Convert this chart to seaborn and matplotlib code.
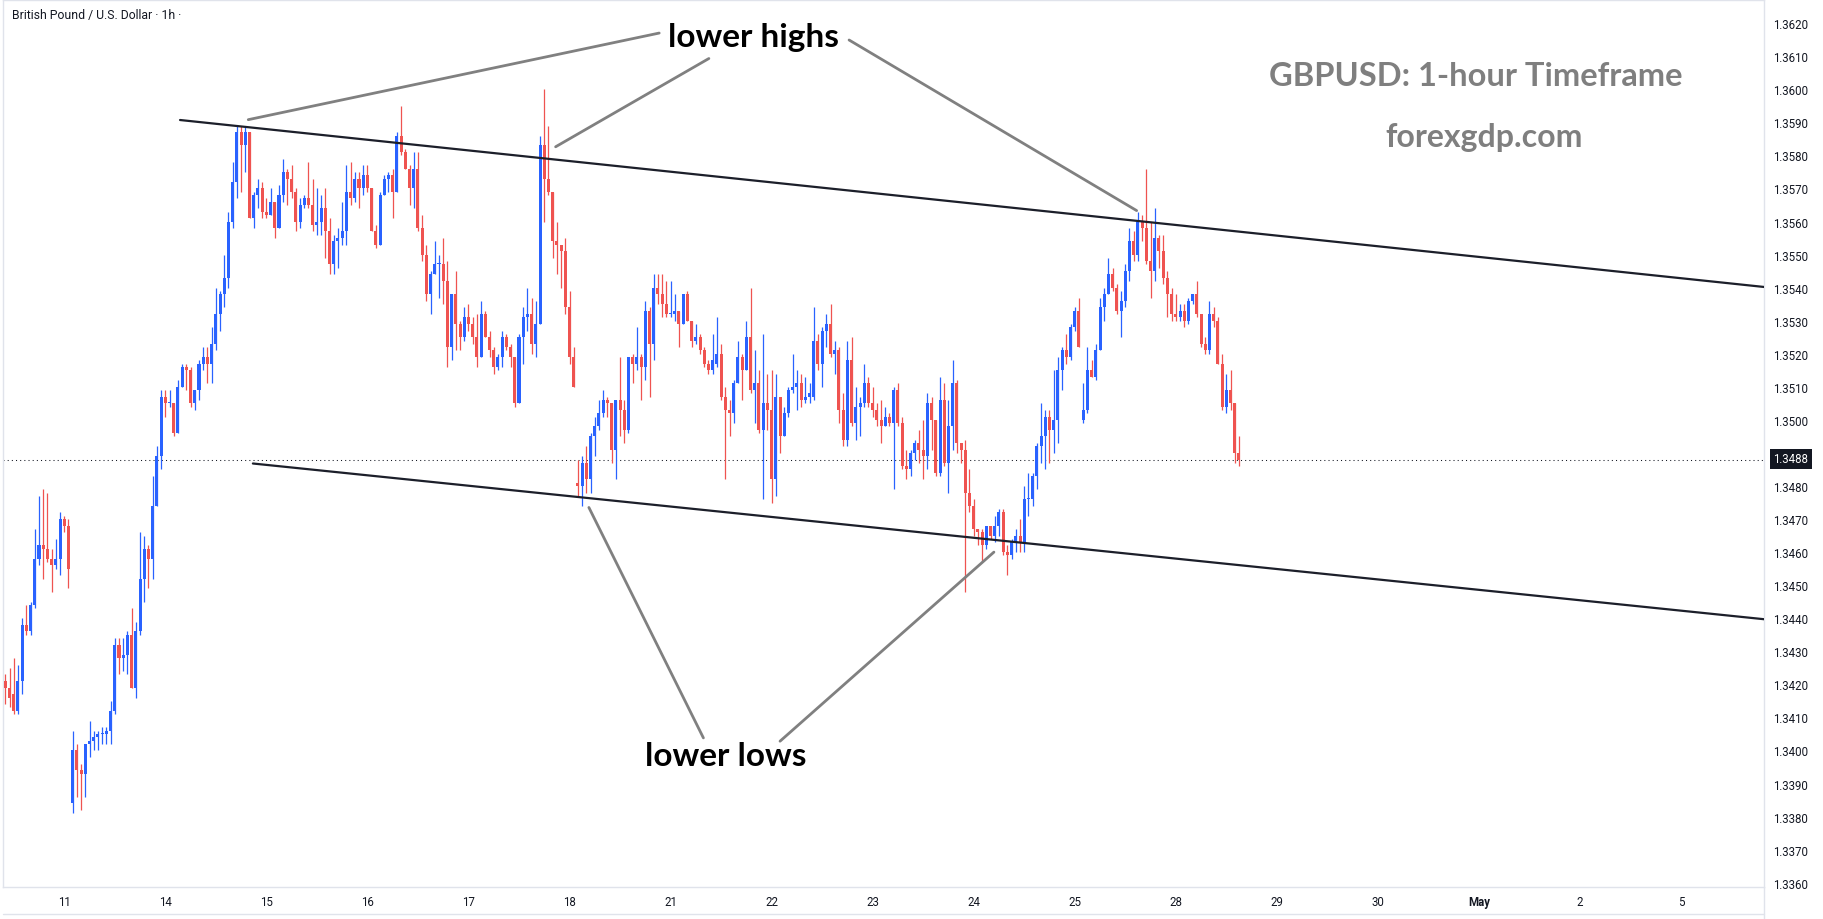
import numpy as np
import pandas as pd
import matplotlib
matplotlib.use("Agg")
import matplotlib.pyplot as plt
from matplotlib.lines import Line2D
import seaborn as sns

# GBPUSD 1h candles (oldest first)
opens = [
    1.3421, 1.3419, 1.3417, 1.3412, 1.3421, 1.3438, 1.3436, 1.3444, 1.3458, 1.3462, 1.3461, 1.3458, 1.3456, 1.3458, 1.3470, 1.3468,
    1.3384, 1.3400, 1.3394, 1.3393, 1.3402, 1.3403, 1.3404, 1.3405, 1.3405, 1.3406, 1.3412, 1.3432, 1.3428, 1.3429, 1.3435, 1.3419,
    1.3436, 1.3452, 1.3461, 1.3458, 1.3474, 1.3489, 1.3507, 1.3505,
    1.3505, 1.3496, 1.3510, 1.3516, 1.3515, 1.3505, 1.3509, 1.3517, 1.3519, 1.3517, 1.3523, 1.3532, 1.3538, 1.3543, 1.3560, 1.3572,
    1.3587, 1.3583, 1.3587, 1.3561, 1.3568, 1.3570, 1.3563, 1.3562,
    1.3566, 1.3558, 1.3568, 1.3575, 1.3573, 1.3569, 1.3560, 1.3565, 1.3567, 1.3565, 1.3559, 1.3560, 1.3564, 1.3557, 1.3547, 1.3554,
    1.3555, 1.3557, 1.3569, 1.3567, 1.3573, 1.3570, 1.3574, 1.3570,
    1.3557, 1.3553, 1.3568, 1.3573, 1.3574, 1.3569, 1.3586, 1.3581, 1.3576, 1.3570, 1.3576, 1.3558, 1.3550, 1.3538, 1.3544, 1.3547,
    1.3547, 1.3542, 1.3522, 1.3538, 1.3529, 1.3525, 1.3531, 1.3529,
    1.3525, 1.3519, 1.3532, 1.3525, 1.3521, 1.3516, 1.3519, 1.3525, 1.3522, 1.3519, 1.3505, 1.3525, 1.3531, 1.3532, 1.3523, 1.3529,
    1.3583, 1.3573, 1.3569, 1.3554, 1.3553, 1.3551, 1.3534, 1.3519,
    1.3481, 1.3480, 1.3487, 1.3482, 1.3495, 1.3498, 1.3502, 1.3506, 1.3505, 1.3491, 1.3506, 1.3503, 1.3497, 1.3519, 1.3517, 1.3519,
    1.3516, 1.3533, 1.3523, 1.3540, 1.3538, 1.3535, 1.3532, 1.3532,
    1.3533, 1.3529, 1.3538, 1.3530, 1.3524, 1.3525, 1.3521, 1.3517, 1.3515, 1.3517, 1.3520, 1.3507, 1.3503, 1.3502, 1.3511, 1.3519,
    1.3515, 1.3525, 1.3509, 1.3511, 1.3497, 1.3505, 1.3503, 1.3482,
    1.3507, 1.3495, 1.3502, 1.3509, 1.3510, 1.3511, 1.3506, 1.3507, 1.3507, 1.3524, 1.3517, 1.3527, 1.3529, 1.3520, 1.3521, 1.3503,
    1.3494, 1.3518, 1.3499, 1.3504, 1.3505, 1.3511, 1.3505, 1.3503,
    1.3500, 1.3498, 1.3501, 1.3499, 1.3509, 1.3499, 1.3486, 1.3485, 1.3490, 1.3493, 1.3491, 1.3489, 1.3505, 1.3500, 1.3484, 1.3506,
    1.3487, 1.3498, 1.3511, 1.3493, 1.3491, 1.3478, 1.3474, 1.3467,
    1.3466, 1.3462, 1.3468, 1.3465, 1.3468, 1.3472, 1.3460, 1.3459, 1.3463, 1.3465, 1.3463, 1.3476, 1.3476, 1.3483, 1.3492, 1.3495,
    1.3501, 1.3497, 1.3500, 1.3515, 1.3521, 1.3519, 1.3528, 1.3533,
    1.3500, 1.3503, 1.3515, 1.3513, 1.3521, 1.3534, 1.3538, 1.3544, 1.3540, 1.3533, 1.3536, 1.3545, 1.3554, 1.3550, 1.3560, 1.3558,
    1.3548, 1.3545, 1.3555, 1.3551, 1.3543, 1.3538, 1.3532, 1.3531,
    1.3533, 1.3530, 1.3536, 1.3538, 1.3532, 1.3523, 1.3521, 1.3532, 1.3530, 1.3517, 1.3504, 1.3509, 1.3505, 1.3490,
]
highs = [
    1.3423, 1.3425, 1.3428, 1.3426, 1.3440, 1.3444, 1.3445, 1.3467, 1.3477, 1.3479, 1.3478, 1.3461, 1.3464, 1.3472, 1.3471, 1.3470,
    1.3406, 1.3402, 1.3396, 1.3402, 1.3409, 1.3406, 1.3406, 1.3407, 1.3407, 1.3415, 1.3434, 1.3434, 1.3434, 1.3436, 1.3443, 1.3439,
    1.3466, 1.3465, 1.3462, 1.3483, 1.3492, 1.3509, 1.3509, 1.3509,
    1.3505, 1.3512, 1.3517, 1.3517, 1.3516, 1.3509, 1.3518, 1.3522, 1.3522, 1.3528, 1.3540, 1.3539, 1.3550, 1.3563, 1.3578, 1.3589,
    1.3589, 1.3589, 1.3587, 1.3569, 1.3573, 1.3572, 1.3567, 1.3570,
    1.3566, 1.3571, 1.3579, 1.3576, 1.3577, 1.3570, 1.3567, 1.3568, 1.3578, 1.3573, 1.3570, 1.3568, 1.3570, 1.3561, 1.3556, 1.3558,
    1.3566, 1.3577, 1.3578, 1.3575, 1.3575, 1.3577, 1.3577, 1.3570,
    1.3559, 1.3569, 1.3574, 1.3575, 1.3576, 1.3587, 1.3595, 1.3582, 1.3577, 1.3581, 1.3581, 1.3562, 1.3553, 1.3545, 1.3554, 1.3550,
    1.3555, 1.3548, 1.3538, 1.3545, 1.3530, 1.3534, 1.3535, 1.3531,
    1.3532, 1.3536, 1.3533, 1.3527, 1.3522, 1.3520, 1.3527, 1.3526, 1.3523, 1.3519, 1.3526, 1.3534, 1.3540, 1.3537, 1.3536, 1.3586,
    1.3600, 1.3589, 1.3569, 1.3560, 1.3553, 1.3555, 1.3539, 1.3522,
    1.3488, 1.3489, 1.3492, 1.3496, 1.3501, 1.3506, 1.3509, 1.3507, 1.3505, 1.3506, 1.3519, 1.3506, 1.3519, 1.3520, 1.3528, 1.3520,
    1.3536, 1.3534, 1.3544, 1.3544, 1.3544, 1.3542, 1.3542, 1.3538,
    1.3533, 1.3538, 1.3539, 1.3530, 1.3529, 1.3526, 1.3522, 1.3518, 1.3526, 1.3531, 1.3523, 1.3510, 1.3506, 1.3512, 1.3524, 1.3520,
    1.3530, 1.3540, 1.3521, 1.3515, 1.3526, 1.3514, 1.3515, 1.3514,
    1.3507, 1.3504, 1.3510, 1.3520, 1.3515, 1.3514, 1.3513, 1.3511, 1.3534, 1.3526, 1.3528, 1.3532, 1.3535, 1.3524, 1.3522, 1.3508,
    1.3524, 1.3525, 1.3510, 1.3507, 1.3517, 1.3513, 1.3510, 1.3505,
    1.3506, 1.3504, 1.3502, 1.3510, 1.3511, 1.3501, 1.3491, 1.3491, 1.3494, 1.3497, 1.3500, 1.3508, 1.3507, 1.3500, 1.3513, 1.3511,
    1.3506, 1.3518, 1.3512, 1.3493, 1.3494, 1.3485, 1.3476, 1.3467,
    1.3467, 1.3468, 1.3468, 1.3471, 1.3473, 1.3473, 1.3462, 1.3464, 1.3467, 1.3470, 1.3480, 1.3484, 1.3484, 1.3493, 1.3505, 1.3503,
    1.3503, 1.3515, 1.3519, 1.3522, 1.3526, 1.3529, 1.3534, 1.3537,
    1.3511, 1.3522, 1.3518, 1.3523, 1.3537, 1.3540, 1.3549, 1.3546, 1.3541, 1.3539, 1.3547, 1.3558, 1.3557, 1.3563, 1.3562, 1.3576,
    1.3560, 1.3564, 1.3556, 1.3556, 1.3545, 1.3540, 1.3538, 1.3535,
    1.3535, 1.3537, 1.3538, 1.3542, 1.3532, 1.3525, 1.3536, 1.3534, 1.3531, 1.3520, 1.3514, 1.3515, 1.3505, 1.3495,
]
lows = [
    1.3414, 1.3413, 1.3411, 1.3411, 1.3417, 1.3435, 1.3435, 1.3443, 1.3456, 1.3452, 1.3457, 1.3448, 1.3455, 1.3453, 1.3466, 1.3449,
    1.3381, 1.3386, 1.3382, 1.3386, 1.3398, 1.3400, 1.3400, 1.3402, 1.3402, 1.3402, 1.3411, 1.3423, 1.3424, 1.3423, 1.3419, 1.3416,
    1.3435, 1.3445, 1.3449, 1.3452, 1.3474, 1.3485, 1.3501, 1.3504,
    1.3495, 1.3496, 1.3510, 1.3509, 1.3504, 1.3503, 1.3506, 1.3515, 1.3511, 1.3511, 1.3521, 1.3527, 1.3534, 1.3540, 1.3558, 1.3567,
    1.3569, 1.3575, 1.3561, 1.3558, 1.3564, 1.3561, 1.3561, 1.3562,
    1.3555, 1.3558, 1.3566, 1.3565, 1.3567, 1.3557, 1.3558, 1.3564, 1.3564, 1.3557, 1.3556, 1.3556, 1.3549, 1.3544, 1.3544, 1.3546,
    1.3553, 1.3553, 1.3565, 1.3566, 1.3564, 1.3568, 1.3569, 1.3557,
    1.3552, 1.3553, 1.3568, 1.3569, 1.3561, 1.3569, 1.3580, 1.3576, 1.3565, 1.3564, 1.3557, 1.3548, 1.3536, 1.3532, 1.3544, 1.3537,
    1.3535, 1.3516, 1.3518, 1.3521, 1.3521, 1.3524, 1.3527, 1.3523,
    1.3516, 1.3519, 1.3525, 1.3519, 1.3514, 1.3515, 1.3516, 1.3521, 1.3516, 1.3504, 1.3505, 1.3517, 1.3527, 1.3520, 1.3519, 1.3529,
    1.3560, 1.3568, 1.3549, 1.3544, 1.3540, 1.3532, 1.3517, 1.3510,
    1.3477, 1.3474, 1.3478, 1.3478, 1.3489, 1.3497, 1.3501, 1.3501, 1.3487, 1.3482, 1.3495, 1.3493, 1.3496, 1.3511, 1.3515, 1.3506,
    1.3512, 1.3507, 1.3518, 1.3535, 1.3531, 1.3531, 1.3531, 1.3530,
    1.3522, 1.3529, 1.3530, 1.3522, 1.3523, 1.3520, 1.3516, 1.3514, 1.3514, 1.3516, 1.3506, 1.3482, 1.3495, 1.3499, 1.3511, 1.3506,
    1.3515, 1.3508, 1.3499, 1.3496, 1.3476, 1.3497, 1.3475, 1.3477,
    1.3490, 1.3495, 1.3501, 1.3508, 1.3503, 1.3504, 1.3505, 1.3505, 1.3506, 1.3515, 1.3510, 1.3522, 1.3519, 1.3514, 1.3499, 1.3492,
    1.3492, 1.3498, 1.3494, 1.3495, 1.3504, 1.3504, 1.3501, 1.3498,
    1.3493, 1.3498, 1.3498, 1.3479, 1.3498, 1.3485, 1.3482, 1.3483, 1.3488, 1.3487, 1.3482, 1.3485, 1.3491, 1.3483, 1.3483, 1.3486,
    1.3478, 1.3491, 1.3490, 1.3487, 1.3448, 1.3472, 1.3465, 1.3462,
    1.3457, 1.3461, 1.3464, 1.3463, 1.3465, 1.3459, 1.3453, 1.3458, 1.3460, 1.3460, 1.3460, 1.3471, 1.3474, 1.3479, 1.3487, 1.3485,
    1.3487, 1.3490, 1.3493, 1.3509, 1.3517, 1.3518, 1.3527, 1.3522,
    1.3499, 1.3502, 1.3513, 1.3512, 1.3521, 1.3530, 1.3538, 1.3539, 1.3532, 1.3525, 1.3534, 1.3542, 1.3548, 1.3548, 1.3554, 1.3547,
    1.3537, 1.3542, 1.3546, 1.3541, 1.3531, 1.3530, 1.3530, 1.3530,
    1.3528, 1.3529, 1.3535, 1.3531, 1.3522, 1.3520, 1.3520, 1.3528, 1.3517, 1.3503, 1.3502, 1.3503, 1.3487, 1.3486,
]
closes = [
    1.3419, 1.3416, 1.3412, 1.3421, 1.3438, 1.3436, 1.3444, 1.3458, 1.3462, 1.3461, 1.3458, 1.3456, 1.3458, 1.3470, 1.3468, 1.3455,
    1.3400, 1.3394, 1.3393, 1.3402, 1.3403, 1.3404, 1.3405, 1.3405, 1.3406, 1.3412, 1.3432, 1.3428, 1.3429, 1.3435, 1.3419, 1.3436,
    1.3452, 1.3461, 1.3458, 1.3474, 1.3489, 1.3507, 1.3505, 1.3505,
    1.3496, 1.3510, 1.3516, 1.3515, 1.3505, 1.3509, 1.3517, 1.3519, 1.3517, 1.3523, 1.3532, 1.3538, 1.3543, 1.3560, 1.3572, 1.3587,
    1.3583, 1.3587, 1.3561, 1.3568, 1.3570, 1.3563, 1.3562, 1.3566,
    1.3558, 1.3568, 1.3575, 1.3573, 1.3569, 1.3560, 1.3565, 1.3567, 1.3565, 1.3559, 1.3560, 1.3564, 1.3557, 1.3547, 1.3554, 1.3555,
    1.3557, 1.3569, 1.3567, 1.3573, 1.3570, 1.3574, 1.3570, 1.3557,
    1.3553, 1.3568, 1.3573, 1.3574, 1.3569, 1.3586, 1.3581, 1.3576, 1.3570, 1.3576, 1.3558, 1.3550, 1.3538, 1.3544, 1.3547, 1.3547,
    1.3542, 1.3522, 1.3538, 1.3529, 1.3525, 1.3531, 1.3529, 1.3525,
    1.3519, 1.3532, 1.3525, 1.3521, 1.3516, 1.3519, 1.3525, 1.3522, 1.3519, 1.3505, 1.3525, 1.3531, 1.3532, 1.3523, 1.3529, 1.3583,
    1.3573, 1.3569, 1.3554, 1.3553, 1.3551, 1.3534, 1.3519, 1.3510,
    1.3480, 1.3487, 1.3482, 1.3495, 1.3498, 1.3502, 1.3506, 1.3505, 1.3491, 1.3506, 1.3503, 1.3497, 1.3519, 1.3517, 1.3519, 1.3516,
    1.3533, 1.3523, 1.3540, 1.3538, 1.3535, 1.3532, 1.3532, 1.3533,
    1.3529, 1.3538, 1.3530, 1.3524, 1.3525, 1.3521, 1.3517, 1.3515, 1.3518, 1.3520, 1.3507, 1.3503, 1.3502, 1.3511, 1.3519, 1.3515,
    1.3525, 1.3509, 1.3511, 1.3497, 1.3505, 1.3503, 1.3482, 1.3507,
    1.3495, 1.3502, 1.3509, 1.3510, 1.3511, 1.3506, 1.3507, 1.3508, 1.3524, 1.3517, 1.3527, 1.3529, 1.3520, 1.3521, 1.3503, 1.3494,
    1.3518, 1.3499, 1.3504, 1.3505, 1.3511, 1.3505, 1.3503, 1.3500,
    1.3498, 1.3501, 1.3499, 1.3509, 1.3499, 1.3486, 1.3485, 1.3490, 1.3493, 1.3491, 1.3489, 1.3505, 1.3500, 1.3484, 1.3506, 1.3487,
    1.3498, 1.3511, 1.3493, 1.3491, 1.3478, 1.3474, 1.3467, 1.3466,
    1.3462, 1.3468, 1.3465, 1.3468, 1.3472, 1.3460, 1.3459, 1.3463, 1.3465, 1.3463, 1.3476, 1.3476, 1.3483, 1.3492, 1.3495, 1.3501,
    1.3497, 1.3500, 1.3515, 1.3521, 1.3519, 1.3528, 1.3533, 1.3522,
    1.3503, 1.3515, 1.3513, 1.3521, 1.3534, 1.3538, 1.3544, 1.3540, 1.3533, 1.3536, 1.3545, 1.3554, 1.3550, 1.3560, 1.3558, 1.3548,
    1.3545, 1.3555, 1.3551, 1.3543, 1.3538, 1.3532, 1.3531, 1.3533,
    1.3530, 1.3536, 1.3538, 1.3532, 1.3523, 1.3521, 1.3532, 1.3530, 1.3517, 1.3504, 1.3509, 1.3505, 1.3490, 1.3488,
]
assert len(opens) == len(highs) == len(lows) == len(closes)

day_labels = ["11", "14", "15", "16", "17", "18", "21", "22", "23", "24", "25",
              "28", "29", "30", "May", "2", "5"]
last_price = 1.3488

# drawn lines: (candle index, price) anchors
upper_channel = ([41.5, 417.7], [1.35907, 1.35402])
lower_channel = ([58.8, 417.7], [1.34868, 1.34397])
pointer_lines = [
    ([57.7, 155.3], [1.35908, 1.36170]),
    ([130.7, 167.1], [1.35826, 1.36093]),
    ([200.4, 268.7], [1.36149, 1.35633]),
    ([138.6, 165.8], [1.34735, 1.34038]),
    ([184.0, 234.8], [1.34028, 1.34600]),
]

sns.set_theme(style="white")
plt.rcParams["font.family"] = ["Roboto", "DejaVu Sans"]

UP, DOWN = "#2962FF", "#EF5350"
TXT = "#131722"
GRID = "#e0e3eb"

df = pd.DataFrame({"open": opens, "high": highs, "low": lows, "close": closes})
df["bar"] = np.arange(len(df))
colors = np.where(df["close"] >= df["open"], UP, DOWN)

W, H = 1823, 920
fig = plt.figure(figsize=(W / 100, H / 100), dpi=100)
ax = fig.add_axes([3 / W, 32 / H, 1761 / W, 887 / H])

ax.vlines(df["bar"], df["low"], df["high"], colors=colors, lw=0.9, zorder=3)
body_lo = df[["open", "close"]].min(axis=1)
body_h = (df["close"] - df["open"]).abs().clip(lower=0.00004)
ax.bar(df["bar"], body_h, bottom=body_lo, width=0.72, color=colors, lw=0, zorder=4)

ax.axhline(last_price, color=TXT, lw=0.75, ls=(0, (1, 3)), zorder=2)

for xs, ys in [upper_channel, lower_channel]:
    sns.lineplot(x=xs, y=ys, ax=ax, color="#1c1f2a", lw=1.6, zorder=5)
for xs, ys in pointer_lines:
    sns.lineplot(x=xs, y=ys, ax=ax, color="#808080", lw=2.0, zorder=5)

ax.set_xlim(-0.55, 417.7)
ax.set_ylim(1.33587, 1.36270)

ax.yaxis.tick_right()
yt = np.round(np.arange(1.3360, 1.36205, 0.001), 4)
ax.set_yticks(yt)
ax.set_yticklabels([f"{t:.4f}" for t in yt])
ax.set_xticks(np.arange(len(day_labels)) * 24 + 14)
ax.set_xticklabels(day_labels)
for lab in ax.get_xticklabels():
    if lab.get_text() == "May":
        lab.set_fontweight("bold")
ax.tick_params(axis="both", length=0, labelsize=8.3, labelcolor=TXT)
ax.tick_params(axis="y", pad=6.5)
ax.tick_params(axis="x", pad=6)
ax.set_xlabel("")
ax.set_ylabel("")
for side in ["top", "left", "right", "bottom"]:
    ax.spines[side].set_color(GRID)
    ax.spines[side].set_linewidth(1.0)

fig.add_artist(Line2D([3 / W, 1764 / W], [1 - 915 / H] * 2, color=GRID, lw=1.0))
fig.add_artist(Line2D([1764 / W] * 2, [0, 32 / H], color=GRID, lw=1.0))

fig.text(12 / W, 1 - 16 / H, "British Pound / U.S. Dollar · 1h ·", fontsize=8.8,
         color=TXT, va="center", ha="left")
fig.text(1791 / W, 1 - 460 / H, f"{last_price:.4f}", fontsize=8.3, color="white",
         ha="center", va="center",
         bbox=dict(boxstyle="square,pad=0.3", fc=TXT, ec="none"))

bold = ["Lato", "DejaVu Sans"]
fig.text(1476 / W, 1 - 77 / H, "GBPUSD: 1-hour Timeframe", fontsize=23.5, color="#7f7f7f",
         fontweight="bold", family=bold, ha="center", va="center")
fig.text(1484 / W, 1 - 137 / H, "forexgdp.com", fontsize=23, color="#7f7f7f",
         fontweight="bold", family=bold, ha="center", va="center")
fig.text(754 / W, 1 - 37 / H, "lower highs", fontsize=24, color="black",
         fontweight="bold", family=bold, ha="center", va="center")
fig.text(726 / W, 1 - 757 / H, "lower lows", fontsize=24, color="black",
         fontweight="bold", family=bold, ha="center", va="center")

fig.savefig("out.png", dpi=100, facecolor="white")
